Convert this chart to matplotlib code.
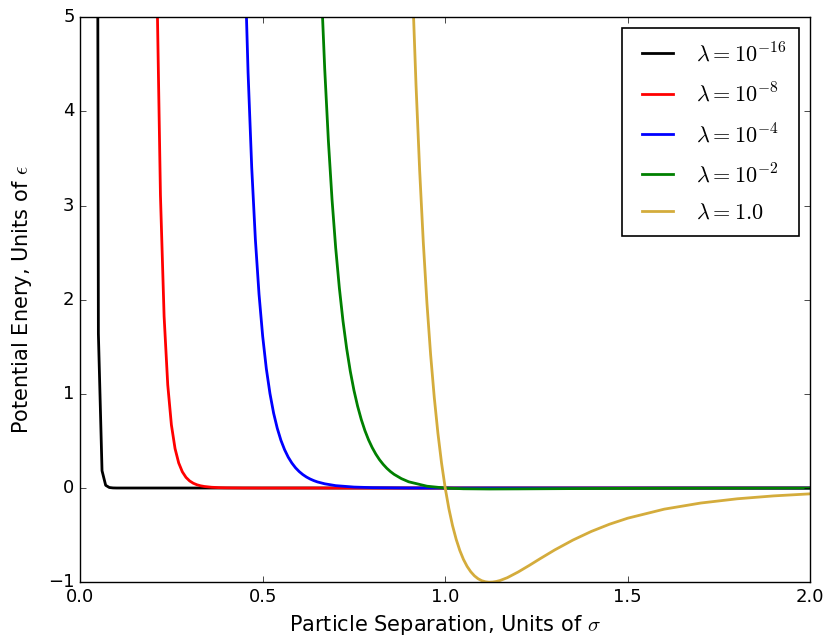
import matplotlib
matplotlib.use("Agg")
import matplotlib.pyplot as plt

plt.style.use("classic")

# soft-scaled Lennard-Jones potential, U(r) in units of epsilon, r in units of sigma
lambda_labels = [r"$\lambda=10^{-16}$", r"$\lambda=10^{-8}$", r"$\lambda=10^{-4}$",
                 r"$\lambda=10^{-2}$", r"$\lambda=1.0$"]
line_colors = ["k", "r", "b", "g", "#d4ac3c"]

r_16 = [0.04, 0.05, 0.06, 0.07, 0.08, 0.09, 0.10, 2.0]
u_16 = [23.8, 1.64, 0.184, 0.029, 0.0058, 0.0014, 0.0004, 0.0]

r_8 = [0.20, 0.21, 0.22, 0.23, 0.24, 0.25, 0.26, 0.27, 0.28, 0.29, 0.30,
       0.31, 0.32, 0.33, 0.34, 0.36, 0.38, 0.40, 0.45, 0.50, 1.0, 2.0]
u_8 = [9.765, 5.43, 3.110, 1.825, 1.096, 0.671, 0.419, 0.2665, 0.1723, 0.1131, 0.0753,
       0.0509, 0.0347, 0.0239, 0.0168, 0.0084, 0.0044, 0.0024, 0.00058, 0.00016, 0.0, 0.0]

r_4 = [0.44, 0.45, 0.46, 0.47, 0.48, 0.49, 0.50, 0.51, 0.52, 0.53, 0.54, 0.55,
       0.56, 0.57, 0.58, 0.59, 0.60, 0.61, 0.62, 0.63, 0.64, 0.65, 0.67, 0.70,
       0.75, 0.80, 0.90, 1.0, 1.12, 2.0]
u_4 = [7.542, 5.752, 4.414, 3.405, 2.641, 2.059, 1.613, 1.268, 1.003, 0.795, 0.6345, 0.507,
       0.4076, 0.328, 0.2655, 0.215, 0.1752, 0.143, 0.1170, 0.096, 0.079, 0.065, 0.045, 0.0255,
       0.0104, 0.0043, 0.00066, 0.0, -0.0001, -0.000006]

r_2 = [0.65, 0.66, 0.67, 0.68, 0.69, 0.70, 0.71, 0.72, 0.73, 0.74, 0.75, 0.76,
       0.77, 0.78, 0.79, 0.80, 0.81, 0.82, 0.83, 0.84, 0.85, 0.86, 0.88, 0.90,
       0.95, 1.0, 1.05, 1.12, 1.2, 1.4, 1.6, 2.0]
u_2 = [6.50, 5.371, 4.447, 3.687, 3.064, 2.550, 2.126, 1.774, 1.483, 1.240, 1.038, 0.870,
       0.729, 0.611, 0.512, 0.4296, 0.360, 0.301, 0.252, 0.210, 0.175, 0.1455, 0.100, 0.0664,
       0.0196, 0.0, -0.0076, -0.0100, -0.0089, -0.0046, -0.0022, -0.0006]

r_0 = [0.90, 0.91, 0.92, 0.93, 0.94, 0.95, 0.96, 0.97, 0.98, 0.99, 1.00,
       1.01, 1.02, 1.03, 1.04, 1.05, 1.06, 1.07, 1.08, 1.09, 1.10, 1.11, 1.12,
       1.13, 1.14, 1.15, 1.17, 1.20, 1.23, 1.26, 1.30, 1.35, 1.40, 1.45, 1.50,
       1.60, 1.70, 1.80, 1.90, 2.00]
u_0 = [6.636, 5.360, 4.283, 3.373, 2.607, 1.961, 1.418, 0.963, 0.582, 0.264, 0.0,
       -0.2185, -0.398, -0.544, -0.663, -0.758, -0.832, -0.889, -0.932, -0.963, -0.984, -0.995, -1.000,
       -0.998, -0.992, -0.982, -0.952, -0.891, -0.822, -0.750, -0.657, -0.552, -0.461, -0.384, -0.320,
       -0.224, -0.159, -0.114, -0.0832, -0.0615]

series = [(r_16, u_16), (r_8, u_8), (r_4, u_4), (r_2, u_2), (r_0, u_0)]

fig = plt.figure(figsize=(8.26, 6.37), dpi=100, facecolor="white")
ax = fig.add_axes([0.097, 0.086, 0.884, 0.887])

for (r, u), lab, c in zip(series, lambda_labels, line_colors):
    ax.plot(r, u, color=c, lw=2, label=lab)

ax.set_xlim(0.0, 2.0)
ax.set_ylim(-1, 5)
ax.set_xticks([0.0, 0.5, 1.0, 1.5, 2.0])
ax.set_yticks([-1, 0, 1, 2, 3, 4, 5])
ax.tick_params(labelsize=13)
ax.set_xlabel(r"Particle Separation, Units of $\sigma$", fontsize=15)
ax.set_ylabel(r"Potential Enery, Units of $\epsilon$", fontsize=15, labelpad=10)

leg = ax.legend(loc="upper right", fontsize=16, labelspacing=0.75, borderpad=0.6,
                handletextpad=0.7, borderaxespad=0.5)
leg.get_frame().set_linewidth(1.2)

fig.savefig("out.png", dpi=100, facecolor="white")
